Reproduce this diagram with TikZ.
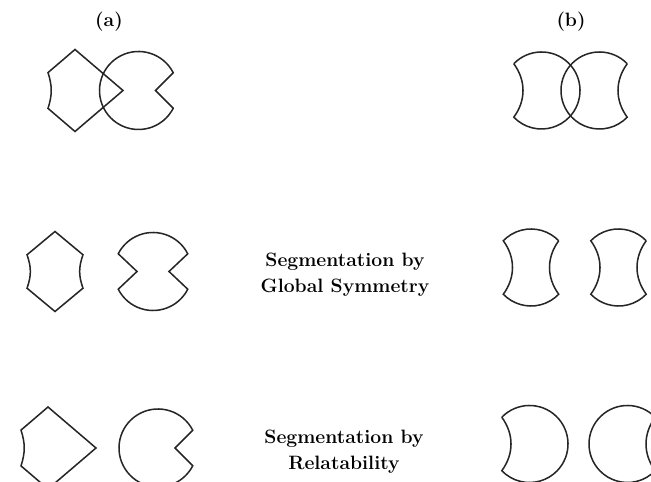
\documentclass[tikz,border=0pt]{standalone}
\usetikzlibrary{positioning}
\begin{document}
\begin{tikzpicture}[x=0.03cm, y=0.03cm,
    outline/.style={line width=1.3pt, draw=black!85, line join=miter},
    caption/.style={font=\fontsize{16.5}{22}\selectfont\bfseries, align=center}]
    % Frame
    \useasboundingbox (0,0) rectangle (651,482);
    \clip (0,0) rectangle (651,482);

    % Column labels
    \node[caption] (cola) at (109,460) {(a)};
    \node[caption] (colb) at (571,460) {(b)};

    % Row 1 (a)
    \draw[outline] (75,432.5) -- (123,391.5) -- (75,350.5) -- (48,373.6) to[bend right=18] (48,409.4) -- cycle;
    \draw[outline] (173.25,409.21) arc[start angle=27, end angle=333, radius=39] -- (155.5,391.5) -- cycle;

    % Row 1 (b)
    \draw[outline] (513.81,418.25) arc[start angle=136, end angle=-136, radius=38.5] to[bend right=36] (513.81,418.25);
    \draw[outline] (627.19,418.25) arc[start angle=44, end angle=316, radius=38.5] to[bend left=36] (627.19,418.25);

    % Row 2 (a)
    \draw[outline] (55,250.5) -- (83,227.2) to[bend right=20] (83,193.8) -- (55,170.5) -- (27,193.8) to[bend right=20] (27,227.2) -- cycle;
    \draw[outline] (187.75,228.21) arc[start angle=27, end angle=153, radius=39] -- (137,210.5)
        -- (118.25,192.79) arc[start angle=207, end angle=333, radius=39] -- (169,210.5) -- cycle;

    % Row 2 text
    \node[caption] (symtext) at (345,207) {Segmentation by\\Global Symmetry};

    % Row 2 (b)
    \draw[outline] (558.69,241.25) arc[start angle=44, end angle=136, radius=38.5] to[bend left=36] (503.31,187.75)
        arc[start angle=224, end angle=316, radius=38.5] to[bend left=36] (558.69,241.25);
    \draw[outline] (646.19,241.25) arc[start angle=44, end angle=136, radius=38.5] to[bend left=36] (590.81,187.75)
        arc[start angle=224, end angle=316, radius=38.5] to[bend left=36] (646.19,241.25);

    % Row 3 (a)
    \draw[outline] (48,75) -- (96,34) -- (48,-7) -- (21,16.1) to[bend right=18] (21,51.9) -- cycle;
    \draw[outline] (192.75,51.71) arc[start angle=27, end angle=333, radius=39] -- (175,34) -- cycle;

    % Row 3 text
    \node[caption] (reltext) at (344,30) {Segmentation by\\Relatability};

    % Row 3 (b)
    \draw[outline] (501.81,64.75) arc[start angle=136, end angle=-136, radius=38.5] to[bend right=36] (501.81,64.75);
    \draw[outline] (655.19,64.75) arc[start angle=44, end angle=316, radius=38.5] to[bend left=36] (655.19,64.75);
\end{tikzpicture}
\end{document}
